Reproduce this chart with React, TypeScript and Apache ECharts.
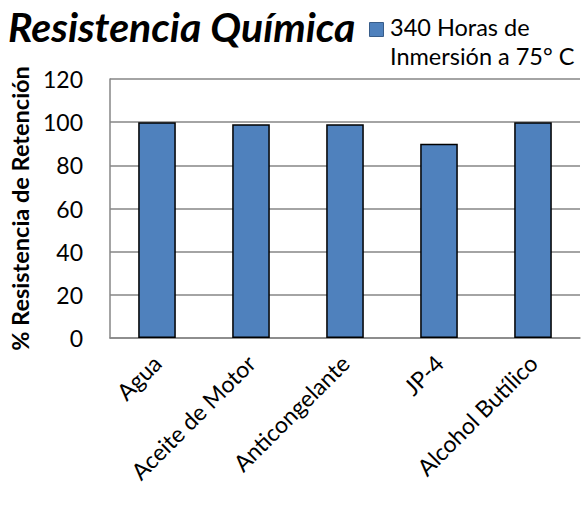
import React, { useEffect, useRef } from "react";
import * as echarts from "echarts";

const categories = ["Agua", "Aceite de Motor", "Anticongelante", "JP-4", "Alcohol Butílico"];
const values = [100, 99, 99, 90, 100];
const seriesName = "340 Horas de Inmersión a 75° C";
const legendLine1 = "340 Horas de";
const legendLine2 = "Inmersión a 75° C";

const FONT = "Lato, 'Open Sans', sans-serif";

export default function App() {
  const ref = useRef<HTMLDivElement>(null);
  useEffect(() => {
    if (!ref.current) return;
    const chart = echarts.init(ref.current, undefined, { renderer: "svg" });
    chart.setOption({
      animation: false,
      backgroundColor: "#ffffff",
      title: {
        text: "Resistencia Química",
        left: 3,
        top: 1,
        textStyle: { fontFamily: FONT, fontSize: 41, fontWeight: "bold", fontStyle: "italic", color: "#000" },
      },
      graphic: [
        { type: "rect", left: 369, top: 22, shape: { width: 14, height: 14 }, style: { fill: "#4F81BD", stroke: "#385D8A", lineWidth: 1 } },
        { type: "text", left: 390, top: 15, style: { text: legendLine1, font: `23.5px ${FONT}`, fill: "#000" } },
        { type: "text", left: 390, top: 44, style: { text: legendLine2, font: `23.5px ${FONT}`, fill: "#000" } },
      ],
      grid: { left: 110, right: 2, top: 79, bottom: 176, containLabel: false },
      xAxis: {
        type: "category",
        data: categories,
        axisLine: { show: true, lineStyle: { color: "#868686", width: 1.5 } },
        axisTick: { show: false },
        axisLabel: { rotate: 45, interval: 0, margin: 21, fontFamily: FONT, fontSize: 23, color: "#000" },
      },
      yAxis: {
        type: "value",
        min: 0,
        max: 120,
        interval: 20,
        name: "% Resistencia de Retención",
        nameLocation: "middle",
        nameGap: 78,
        nameTextStyle: { fontFamily: FONT, fontSize: 23.5, fontWeight: "bold", color: "#000" },
        axisLine: { show: true, lineStyle: { color: "#868686", width: 1.5 } },
        axisTick: { show: false },
        axisLabel: { margin: 27, fontFamily: FONT, fontSize: 23, color: "#000" },
        splitLine: { lineStyle: { color: "#868686", width: 1.5 } },
      },
      series: [
        {
          name: seriesName,
          type: "bar",
          data: values,
          barWidth: "40%",
          itemStyle: { color: "#4F81BD", borderColor: "#000", borderWidth: 1.5 },
        },
      ],
    });
    return () => chart.dispose();
  }, []);
  return <div ref={ref} style={{ position: "absolute", left: 0, top: 0, width: 582, height: 514 }} />;
}
